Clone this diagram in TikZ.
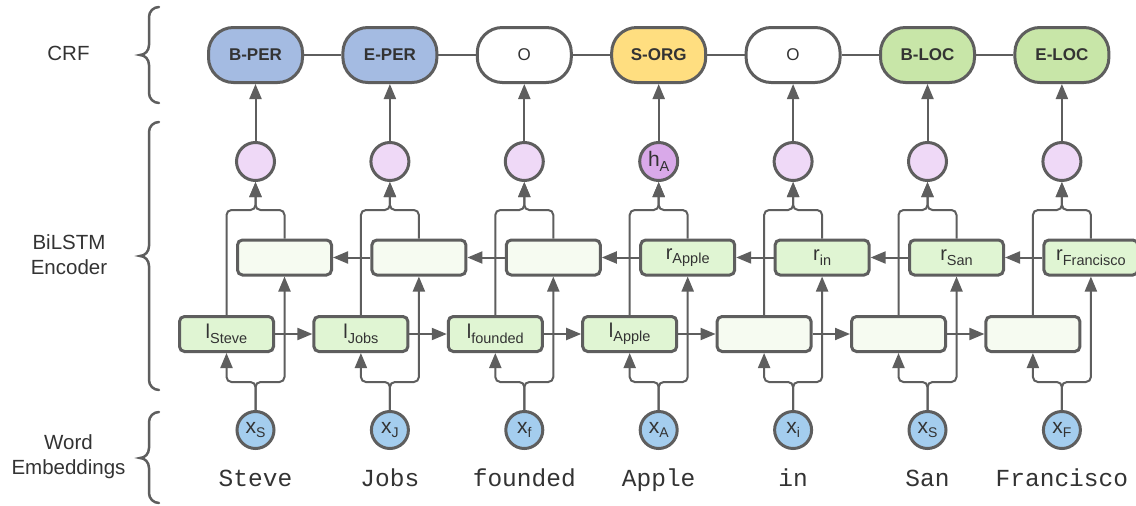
\documentclass[tikz,border=0pt]{standalone}
\usepackage{fontspec}
\setmainfont{Liberation Sans}
\newfontfamily\wordfont{Liberation Mono}
\usetikzlibrary{arrows.meta}
\definecolor{strk}{HTML}{5E5E5E}
\definecolor{txt}{HTML}{333333}
\definecolor{percol}{HTML}{A4BBE2}
\definecolor{orgcol}{HTML}{FFDE80}
\definecolor{loccol}{HTML}{C8E6A8}
\definecolor{hcol}{HTML}{EFD9F7}
\definecolor{hAcol}{HTML}{D9A9E9}
\definecolor{xcol}{HTML}{A4CDEE}
\definecolor{cellcol}{HTML}{E0F5D3}
\definecolor{emptycol}{HTML}{F6FBF1}
\newcommand\vsb[4]{{\fontsize{#3}{#3}\selectfont #1}\raisebox{-4.5pt}{\fontsize{#4}{#4}\selectfont #2}}
\begin{document}
\begin{tikzpicture}[x=1pt,y=1pt,
  conn/.style={draw=strk, line width=2pt},
  arr/.style={conn, -{Triangle[length=15pt,width=12pt]}},
  crfbox/.style={draw=strk, line width=3pt, rounded corners=25pt, minimum width=94pt, minimum height=55pt, inner sep=0pt, text=txt, font=\fontsize{17}{17}\selectfont\bfseries},
  crfo/.style={crfbox, fill=white, font=\fontsize{17}{17}\selectfont},
  hcirc/.style={circle, draw=strk, line width=3pt, fill=hcol, minimum size=38pt, inner sep=0pt, text=txt},
  xcirc/.style={circle, draw=strk, line width=3pt, fill=xcol, minimum size=37pt, inner sep=0pt, text=txt},
  cell/.style={draw=strk, line width=3pt, rounded corners=5pt, minimum width=94pt, minimum height=35pt, inner sep=0pt, fill=cellcol, text=txt},
  ecell/.style={cell, fill=emptycol},
  word/.style={font=\wordfont\fontsize{24.5}{24.5}\selectfont, text=txt, anchor=base},
  lab/.style={font=\fontsize{20.5}{25}\selectfont, text=txt, align=center},
  bracepath/.style={draw=strk, line width=2.5pt, line cap=round}
]
\fill[white] (0,0) rectangle (1136,-506);
\useasboundingbox (0,0) rectangle (1136,-506);

% labels
\node[lab] (lcrf) at (68.5,-53) {CRF};
\node[lab] (lbil) at (69,-255) {BiLSTM\\Encoder};
\node[lab] (lemb) at (68.5,-457) {Word\\Embeddings};

% braces
\draw[bracepath] (159,-7) to[out=180,in=90] (149,-17) -- (149,-45) to[out=-90,in=0] (140,-55) to[out=0,in=90] (149,-65) -- (149,-93) to[out=-90,in=180] (159,-103);
\draw[bracepath] (159,-122) to[out=180,in=90] (149,-132) -- (149,-246) to[out=-90,in=0] (140,-256) to[out=0,in=90] (149,-266) -- (149,-380) to[out=-90,in=180] (159,-390);
\draw[bracepath] (159,-412) to[out=180,in=90] (149,-422) -- (149,-448) to[out=-90,in=0] (140,-458) to[out=0,in=90] (149,-468) -- (149,-493) to[out=-90,in=180] (159,-503);

% CRF nodes
\node[crfbox, fill=percol] (c1) at (255.5,-55) {B-PER};
\node[crfbox, fill=percol] (c2) at (389.9,-55) {E-PER};
\node[crfo] (c3) at (524.3,-55) {O};
\node[crfbox, fill=orgcol] (c4) at (658.7,-55) {S-ORG};
\node[crfo] (c5) at (793.1,-55) {O};
\node[crfbox, fill=loccol] (c6) at (927.5,-55) {B-LOC};
\node[crfbox, fill=loccol] (c7) at (1061.9,-55) {E-LOC};

% hidden outputs
\node[hcirc] (h1) at (255.5,-161.5) {};
\node[hcirc] (h2) at (389.9,-161.5) {};
\node[hcirc] (h3) at (524.3,-161.5) {};
\node[hcirc, fill=hAcol] (h4) at (658.7,-161.5) {\vsb{h}{A}{21}{14.5}};
\node[hcirc] (h5) at (793.1,-161.5) {};
\node[hcirc] (h6) at (927.5,-161.5) {};
\node[hcirc] (h7) at (1061.9,-161.5) {};

% backward cells
\node[ecell] (r1) at (284.5,-257.5) {};
\node[ecell] (r2) at (418.9,-257.5) {};
\node[ecell] (r3) at (553.3,-257.5) {};
\node[cell] (r4) at (687.7,-257.5) {\vsb{r}{Apple}{20}{14.5}};
\node[cell] (r5) at (822.1,-257.5) {\vsb{r}{in}{20}{14.5}};
\node[cell] (r6) at (956.5,-257.5) {\vsb{r}{San}{20}{14.5}};
\node[cell] (r7) at (1090.9,-257.5) {\vsb{r}{Francisco}{20}{14.5}};

% forward cells
\node[cell] (l1) at (226.5,-334) {\vsb{l}{Steve}{20}{14.5}};
\node[cell] (l2) at (360.9,-334) {\vsb{l}{Jobs}{20}{14.5}};
\node[cell] (l3) at (495.3,-334) {\vsb{l}{founded}{20}{14.5}};
\node[cell] (l4) at (629.7,-334) {\vsb{l}{Apple}{20}{14.5}};
\node[ecell] (l5) at (764.1,-334) {};
\node[ecell] (l6) at (898.5,-334) {};
\node[ecell] (l7) at (1032.9,-334) {};

% embeddings
\node[xcirc] (x1) at (255.5,-430) {\vsb{x}{S}{21}{14}};
\node[xcirc] (x2) at (389.9,-430) {\vsb{x}{J}{21}{14}};
\node[xcirc] (x3) at (524.3,-430) {\vsb{x}{f}{21}{14}};
\node[xcirc] (x4) at (658.7,-430) {\vsb{x}{A}{21}{14}};
\node[xcirc] (x5) at (793.1,-430) {\vsb{x}{i}{21}{14}};
\node[xcirc] (x6) at (927.5,-430) {\vsb{x}{S}{21}{14}};
\node[xcirc] (x7) at (1061.9,-430) {\vsb{x}{F}{21}{14}};

% words
\node[word] (w1) at (255.5,-486) {Steve};
\node[word] (w2) at (389.9,-486) {Jobs};
\node[word] (w3) at (524.3,-486) {founded};
\node[word] (w4) at (658.7,-486) {Apple};
\node[word] (w5) at (793.1,-486) {in};
\node[word] (w6) at (927.5,-486) {San};
\node[word] (w7) at (1061.9,-486) {Francisco};

% CRF chain and recurrent arrows
\foreach \i/\j in {1/2,2/3,3/4,4/5,5/6,6/7}{
  \draw[draw=strk, line width=1.5pt] (c\i) -- (c\j);
  \draw[arr] (l\i) -- (l\j);
  \draw[arr] (r\j) -- (r\i);
}

% vertical connections
\foreach \i/\cx in {1/255.5,2/389.9,3/524.3,4/658.7,5/793.1,6/927.5,7/1061.9}{
  \draw[arr] (h\i) -- (c\i);
  \draw[arr, rounded corners=5pt] (l\i.north) |- (\cx,-210) -- (h\i.south);
  \draw[arr, rounded corners=5pt] (r\i.north) |- (\cx,-210) -- (h\i.south);
  \draw[arr, rounded corners=5pt] (x\i.north) -- (\cx,-382) -| (l\i.south);
  \draw[arr, rounded corners=5pt] (x\i.north) -- (\cx,-382) -| (r\i.south);
}
\end{tikzpicture}
\end{document}
